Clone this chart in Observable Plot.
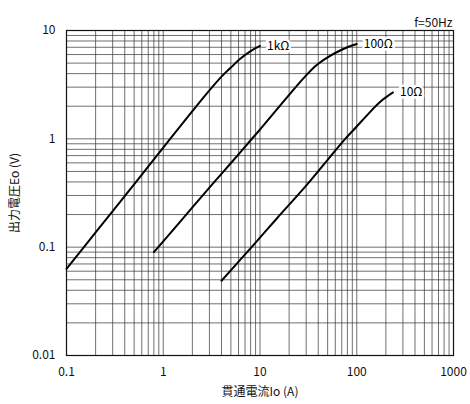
<!DOCTYPE html>
<html><head><meta charset="utf-8">
<script src="https://cdn.jsdelivr.net/npm/d3@7"></script>
<script src="https://cdn.jsdelivr.net/npm/@observablehq/plot@0.6"></script>
<style>
body{margin:0;background:#fff}
svg{font-family:"Noto Sans CJK JP","DejaVu Sans",sans-serif}
</style>
</head><body><div id="chart"></div>
<script>
// Data (log-log)
const loads = ["1kΩ", "100Ω", "10Ω"];
const current1k = [0.1, 0.2, 0.35, 0.5, 1, 2, 3, 4, 5, 6.2, 8, 10];
const voltage1k = [0.063, 0.137, 0.255, 0.38, 0.83, 1.8, 2.8, 3.75, 4.55, 5.45, 6.45, 7.2];
const current100 = [0.8, 1, 2, 3, 4, 6, 8, 10, 20, 30, 38, 50, 62, 80, 100];
const voltage100 = [0.09, 0.113, 0.233, 0.355, 0.475, 0.72, 0.97, 1.22, 2.55, 3.85, 4.75, 5.65, 6.3, 7.0, 7.5];
const current10 = [4, 8.5, 15, 30, 50, 76, 100, 126, 173, 237];
const voltage10 = [0.049, 0.104, 0.185, 0.37, 0.64, 1.0, 1.3, 1.63, 2.18, 2.68];
const xTicks = [0.1, 1, 10, 100, 1000];
const yTicks = [0.01, 0.1, 1, 10];
const xDomain = [0.1, 1000];
const yDomain = [0.01, 10];
const freqNote = "f=50Hz";
const xLabel = "貫通電流Io (A)";
const yLabel = "出力電圧Eo (V)";

const series = [
  [loads[0], current1k, voltage1k],
  [loads[1], current100, voltage100],
  [loads[2], current10, voltage10]
];
const rows = series.flatMap(([load, xs, ys]) => xs.map((x, i) => ({load, current: x, voltage: ys[i]})));

const xGrid = d3.scaleLog().domain(xDomain).ticks();
const yGrid = d3.scaleLog().domain(yDomain).ticks();

const chart = Plot.plot({
  width: 470,
  height: 404,
  marginLeft: 66,
  marginRight: 17,
  marginTop: 30,
  marginBottom: 49,
  style: {fontSize: "12px", color: "#111", background: "#fff"},
  x: {type: "log", domain: xDomain},
  y: {type: "log", domain: yDomain},
  marks: [
    Plot.ruleX(xGrid, {stroke: "#333", strokeOpacity: 0.7, strokeWidth: 1}),
    Plot.ruleY(yGrid, {stroke: "#333", strokeOpacity: 0.7, strokeWidth: 1}),
    Plot.axisX({ticks: xTicks, tickSize: 0, tickPadding: 12, tickFormat: d => String(d),
      label: xLabel, labelAnchor: "center", labelOffset: 40, labelArrow: "none"}),
    Plot.axisY({ticks: yTicks, tickSize: 0, tickPadding: 11, tickFormat: d => String(d),
      label: yLabel, labelAnchor: "center", labelOffset: 56, labelArrow: "none"}),
    Plot.frame({stroke: "#111", strokeWidth: 1.2}),
    Plot.line(rows, {x: "current", y: "voltage", z: "load", stroke: "#000", strokeWidth: 2, curve: "catmull-rom"}),
    Plot.text(rows, Plot.selectLast({x: "current", y: "voltage", z: "load", text: "load",
      textAnchor: "start", dx: 7, fill: "#000", stroke: "#fff", strokeWidth: 5, fontSize: 12})),
    Plot.text([freqNote], {frameAnchor: "top-right", dy: -12, dx: -1, textAnchor: "end", fontSize: 12})
  ]
});
document.getElementById("chart").appendChild(chart);
</script>
</body></html>
